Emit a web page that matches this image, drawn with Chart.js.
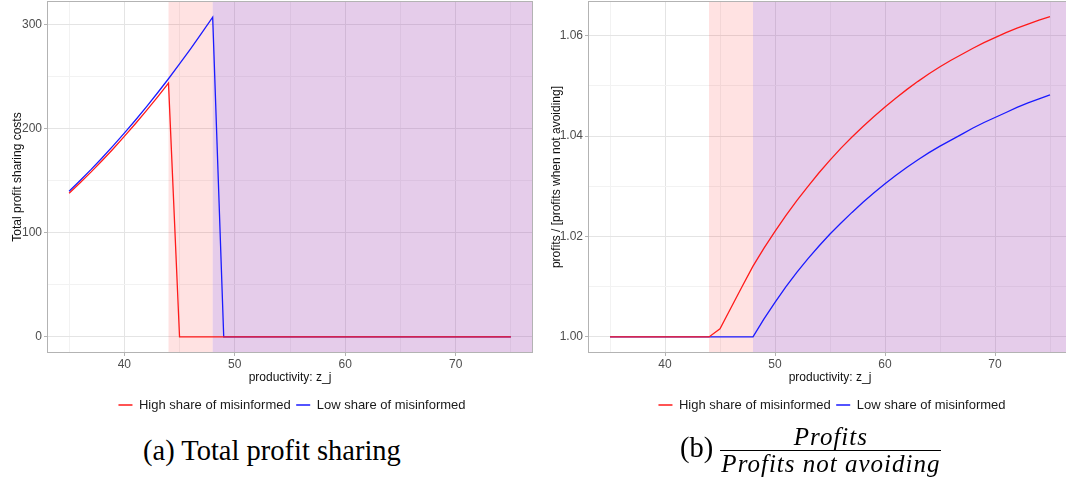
<!DOCTYPE html>
<html>
<head>
<meta charset="utf-8">
<script src="https://cdn.jsdelivr.net/npm/chart.js@4.4.1/dist/chart.umd.min.js"></script>
<style>
  html, body { margin: 0; padding: 0; background: #fff; }
  body { width: 1066px; height: 480px; overflow: hidden; position: relative; }
  .panel { position: absolute; top: 0; width: 540px; height: 430px; }
  .caption { position: absolute; font-family: "Liberation Serif", "Times New Roman", serif; color: #000; white-space: nowrap; font-size: 28.5px; }
  .frac { display: inline-block; vertical-align: middle; text-align: center; font-style: italic; font-size: 25px; letter-spacing: 1px; }
  .frac .num { display: block; line-height: 26px; }
  .frac .den { display: block; line-height: 25px; border-top: 1px solid #000; padding: 0 1px; }
</style>
</head>
<body>
<div class="panel" style="left:0"><canvas id="costs"></canvas></div>
<div class="panel" style="left:540px"><canvas id="ratio"></canvas></div>
<div class="caption" style="left:143px; top:435px;">(a) Total profit sharing</div>
<div class="caption" style="left:680px; top:424px;">(b) <span class="frac"><span class="num">Profits</span><span class="den">Profits not avoiding</span></span></div>

<script>
// productivity grid z_j
const productivity = [35, 36, 37, 38, 39, 40, 41, 42, 43, 44, 45, 46, 47, 48, 49, 50, 51, 52, 53, 54,
  55, 56, 57, 58, 59, 60, 61, 62, 63, 64, 65, 66, 67, 68, 69, 70, 71, 72, 73, 74, 75];

// total profit sharing costs
const costsHigh = [138, 148.1, 158.6, 169.6, 180.9, 192.7, 204.9, 217.5, 230.5, 243.9, 0, 0, 0, 0, 0, 0, 0, 0, 0, 0,
  0, 0, 0, 0, 0, 0, 0, 0, 0, 0, 0, 0, 0, 0, 0, 0, 0, 0, 0, 0, 0];
const costsLow = [140, 150.3, 161.0, 172.2, 183.8, 195.8, 208.2, 221.1, 234.4, 248.1, 262.3, 276.9, 291.9, 307.3,
  0, 0, 0, 0, 0, 0, 0, 0, 0, 0, 0, 0, 0, 0, 0, 0, 0, 0, 0, 0, 0, 0, 0, 0, 0, 0, 0];

// profits / profits when not avoiding
const ratioHigh = [1.0, 1.0, 1.0, 1.0, 1.0, 1.0, 1.0, 1.0, 1.0, 1.0,
  1.0016, 1.0058, 1.0100, 1.0141, 1.0177, 1.0210, 1.0242, 1.0272, 1.0300, 1.0327,
  1.0352, 1.0376, 1.0398, 1.0419, 1.0439, 1.0458, 1.0476, 1.0493, 1.0509, 1.0524,
  1.0538, 1.0551, 1.0563, 1.0575, 1.0586, 1.0596, 1.0606, 1.0615, 1.0623, 1.0631, 1.0638];
const ratioLow = [1.0, 1.0, 1.0, 1.0, 1.0, 1.0, 1.0, 1.0, 1.0, 1.0, 1.0, 1.0, 1.0, 1.0,
  1.0036, 1.0069, 1.0100, 1.0129, 1.0156, 1.0181, 1.0205, 1.0227, 1.0248, 1.0268, 1.0287,
  1.0305, 1.0322, 1.0338, 1.0353, 1.0367, 1.0380, 1.0392, 1.0404, 1.0416, 1.0427,
  1.0437, 1.0447, 1.0457, 1.0466, 1.0474, 1.0482];

// tick positions (majors get labels, minors only a grid line)
const xTicks = [35, 40, 45, 50, 55, 60, 65, 70, 75];
const xMajor = [40, 50, 60, 70];
const costTicks = [0, 50, 100, 150, 200, 250, 300];
const costMajor = [0, 100, 200, 300];
const ratioTicks = [1.00, 1.01, 1.02, 1.03, 1.04, 1.05, 1.06];
const ratioMajor = [1.00, 1.02, 1.04, 1.06];

// shaded regimes along z_j
const pinkFrom = 44;
const purpleFrom = 48;

const seriesNames = ['High share of misinformed', 'Low share of misinformed'];

const FONT = '"Liberation Sans", Arial, Helvetica, sans-serif';
const isMajor = (list, v) => list.some(m => Math.abs(m - v) < 1e-9);

const regimes = {
  id: 'regimes',
  afterLayout(chart) {
    // centre the legend under the panel rather than the whole canvas
    const lg = chart.legend, a = chart.chartArea;
    const shift = (a.left + a.right) / 2 + 2 - (lg.left + lg.right) / 2;
    lg.left += shift;
    lg.right += shift;
  },
  beforeDatasetsDraw(chart) {
    const { ctx, chartArea: a, scales: { x } } = chart;
    const p0 = x.getPixelForValue(pinkFrom);
    const p1 = x.getPixelForValue(purpleFrom);
    ctx.save();
    ctx.fillStyle = 'rgba(255, 0, 0, 0.115)';
    ctx.fillRect(p0, a.top, p1 - p0, a.bottom - a.top);
    ctx.fillStyle = 'rgba(150, 50, 170, 0.25)';
    ctx.fillRect(p1, a.top, a.right - p1, a.bottom - a.top);
    ctx.restore();
  },
  afterDraw(chart) {
    const { ctx, chartArea: a } = chart;
    ctx.save();
    ctx.strokeStyle = '#b3b3b3';
    ctx.lineWidth = 1;
    ctx.strokeRect(Math.round(a.left) + 0.5, Math.round(a.top) + 0.5,
      Math.round(a.right - a.left) - 1, Math.round(a.bottom - a.top) - 1);
    ctx.restore();
  }
};

function pairs(ys) {
  return productivity.map((x, i) => ({ x: x, y: ys[i] }));
}

function makeChart(id, yTitle, high, low, yMin, yMax, yTicks, yMajor, fmt, padRight, yWidth, titlePad) {
  new Chart(document.getElementById(id), {
    type: 'line',
    data: {
      datasets: [
        { label: seriesNames[0], data: pairs(high), borderColor: '#ff1a1a', backgroundColor: '#ff1a1a', borderWidth: 1.3, pointRadius: 0, tension: 0 },
        { label: seriesNames[1], data: pairs(low), borderColor: '#1a1aff', backgroundColor: '#1a1aff', borderWidth: 1.3, pointRadius: 0, tension: 0 }
      ]
    },
    options: {
      responsive: false,
      animation: false,
      layout: { padding: { top: 1, right: padRight, bottom: 8.5, left: 0 } },
      plugins: {
        tooltip: { enabled: false },
        legend: {
          position: 'bottom',
          labels: {
            usePointStyle: true, pointStyle: 'line', pointStyleWidth: 14, boxHeight: 13,
            padding: 5.5, color: '#1a1a1a', font: { family: FONT, size: 13 }
          }
        }
      },
      scales: {
        x: {
          type: 'linear', min: 33, max: 77,
          afterBuildTicks: s => { s.ticks = xTicks.map(v => ({ value: v })); },
          afterFit: s => { s.height = 40; s.paddingLeft = 0; s.paddingRight = 0; },
          ticks: {
            autoSkip: false, maxRotation: 0, padding: 1, color: '#4d4d4d', font: { family: FONT, size: 12 },
            callback: v => isMajor(xMajor, v) ? String(v) : ''
          },
          grid: {
            tickLength: 3,
            color: c => isMajor(xMajor, c.tick.value) ? '#e4e4e4' : '#f2f2f2',
            tickColor: c => isMajor(xMajor, c.tick.value) ? '#b3b3b3' : 'rgba(0,0,0,0)'
          },
          border: { display: false },
          title: { display: true, text: 'productivity: z_j', color: '#111', font: { family: FONT, size: 12 }, padding: { top: 0, bottom: 8 } }
        },
        y: {
          type: 'linear', min: yMin, max: yMax,
          afterBuildTicks: s => { s.ticks = yTicks.map(v => ({ value: v })); },
          afterFit: s => { s.width = yWidth; s.paddingTop = 0; s.paddingBottom = 0; },
          ticks: {
            autoSkip: false, padding: 2, color: '#4d4d4d', font: { family: FONT, size: 12 },
            callback: v => isMajor(yMajor, v) ? fmt(v) : ''
          },
          grid: {
            tickLength: 3,
            color: c => isMajor(yMajor, c.tick.value) ? '#e4e4e4' : '#f2f2f2',
            tickColor: c => isMajor(yMajor, c.tick.value) ? '#b3b3b3' : 'rgba(0,0,0,0)'
          },
          border: { display: false },
          title: { display: true, text: yTitle, color: '#111', font: { family: FONT, size: 12 }, padding: { top: titlePad, bottom: 0 } }
        }
      }
    },
    plugins: [regimes]
  });
}

for (const id of ['costs', 'ratio']) {
  const cv = document.getElementById(id);
  cv.width = 540;
  cv.height = 430;
}

makeChart('costs', 'Total profit sharing costs', costsHigh, costsLow,
  -15.4, 322.8, costTicks, costMajor, v => String(v), 7, 47, 10);
makeChart('ratio', 'profits / [profits when not avoiding]', ratioHigh, ratioLow,
  0.9968, 1.0669, ratioTicks, ratioMajor, v => v.toFixed(2), 8, 48, 9);
</script>
</body>
</html>
